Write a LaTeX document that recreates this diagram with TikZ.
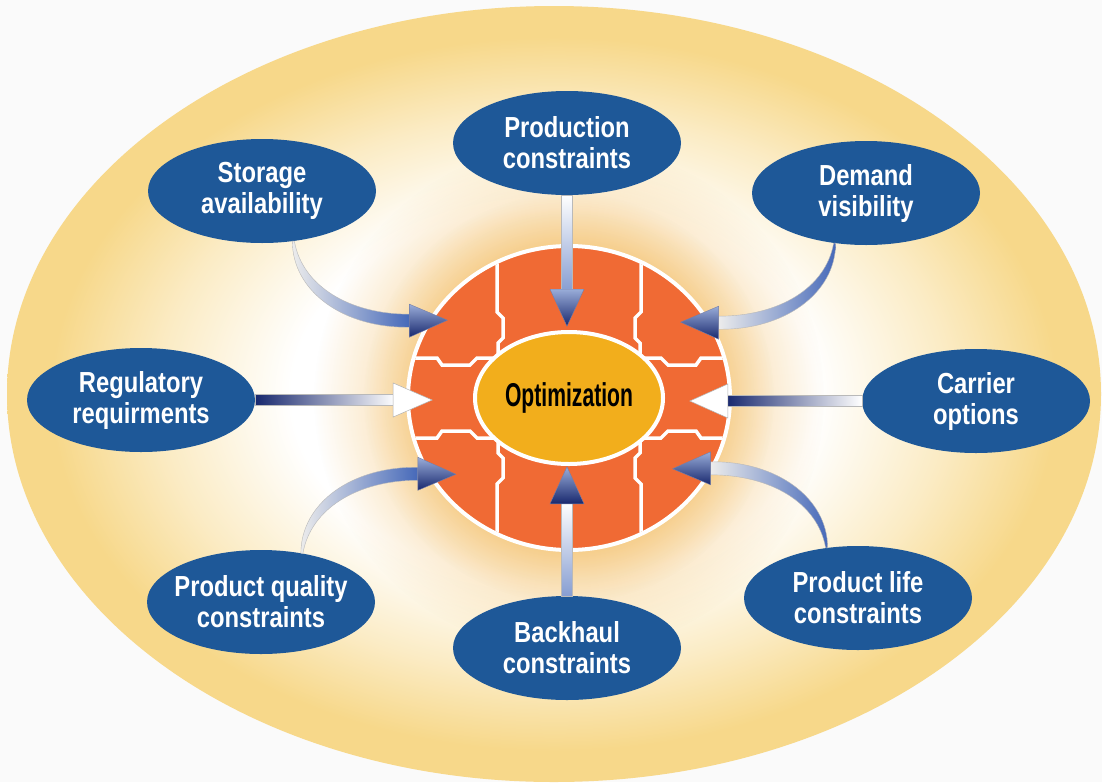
\documentclass[tikz,border=0pt]{standalone}
\usepackage{fontspec}
\setmainfont{Liberation Sans}
\newfontfamily\labelfont{Liberation Sans}[FakeStretch=0.82]
\newfontfamily\optfont{Liberation Sans}[FakeStretch=0.64]
\usetikzlibrary{shapes.geometric,calc,fadings}

\definecolor{nodeblue}{RGB}{30,88,152}
\definecolor{diskorange}{RGB}{240,106,52}
\definecolor{optgold}{RGB}{242,174,28}
\definecolor{bggold}{RGB}{247,216,138}
\definecolor{glowgold}{RGB}{240,168,48}
\definecolor{navy}{RGB}{24,40,110}
\definecolor{arrowblue}{RGB}{70,105,185}
\definecolor{paper}{RGB}{250,250,250}
\colorlet{bgmid}{bggold!50!white}

\pgfdeclareradialshading{bgshade}{\pgfpointorigin}{color(0bp)=(white); color(12bp)=(white); color(18bp)=(bgmid); color(23bp)=(bggold); color(50bp)=(bggold)}
\tikzfading[name=glowfade, inner color=transparent!0, outer color=transparent!100]

\begin{document}
\begin{tikzpicture}[
    x=1pt, y=-1pt,
    factor/.style={ellipse, fill=nodeblue, text=white, minimum width=228pt, minimum height=104pt, inner xsep=-25pt, inner ysep=-8pt, align=center, font=\labelfont\bfseries\fontsize{29}{31}\selectfont},
    disk/.style={ellipse, fill=diskorange, draw=white, line width=4pt, minimum width=322pt, minimum height=304pt, inner sep=0pt},
    core/.style={ellipse, fill=optgold, draw=white, line width=4pt, minimum width=188pt, minimum height=132pt, inner sep=0pt, font=\optfont\bfseries\fontsize{33}{36}\selectfont},
    divider/.style={white, line width=3.5pt},
    shaft/.style={draw=gray!55, line width=0.4pt},
    head/.style={draw=navy!60, line width=0.4pt, top color=arrowblue!55!white, bottom color=navy}
]
    \useasboundingbox (0,0) rectangle (1102,782);

    % Background
    \fill[paper] (0,0) rectangle (1102,782);
    \shade[shading=bgshade] (554,394) ellipse [x radius=547, y radius=388];
    \fill[glowgold, path fading=glowfade] (569,398) circle (255);
    \fill[glowgold, path fading=glowfade] (569,398) circle (205);

    % Central disk
    \node[disk] (disk) at (569,398) {};
    \begin{scope}
        \clip (disk.center) ellipse [x radius=159, y radius=150];
        \foreach \sx/\sy in {1/1,-1/1,1/-1,-1/-1}{
            \begin{scope}[shift={(disk.center)}, xscale=\sx, yscale=\sy]
                \draw[divider] (-72,-160) -- (-72,-86) -- (-66,-80) -- (-66,-60) -- (-71,-55) -- (-71,-30);
                \draw[divider] (-170,-40) -- (-132,-40) -- (-127,-33) -- (-99,-33) -- (-92,-40) -- (-70,-40);
            \end{scope}
        }
    \end{scope}
    \node[core] (opt) at (disk.center) {Optimization};

    % Factors
    \node[factor] (prod) at (567,143) {Production\\constraints};
    \node[factor] (storage) at (262,191) {Storage\\availability};
    \node[factor] (demand) at (866,193) {Demand\\visibility};
    \node[factor] (reg) at (141,400) {Regulatory\\requirments};
    \node[factor] (carrier) at (976,401) {Carrier\\options};
    \node[factor] (qual) at (261,602) {Product quality\\constraints};
    \node[factor] (back) at (567,648) {Backhaul\\constraints};
    \node[factor] (life) at (858,598) {Product life\\constraints};

    % Straight arrows
    \begin{scope}[shift={(prod.south)}]
        \shade[shaft, top color=white, bottom color=arrowblue!65!white] (-5.5,0) rectangle (5.5,96);
        \shade[head] (-17,94) -- (0,131) -- (17,94) -- cycle;
    \end{scope}
    \begin{scope}[shift={(back.north)}, yscale=-1]
        \shade[shaft, top color=white, bottom color=arrowblue!65!white] (-5.5,0) rectangle (5.5,94);
        \shade[head] (-17,92) -- (0,129) -- (17,92) -- cycle;
    \end{scope}
    \begin{scope}[shift={(reg.east)}]
        \shade[shaft, left color=navy, middle color=arrowblue!45!white, right color=white] (0,-5.5) rectangle (140,5.5);
        \filldraw[fill=white, draw=gray!60, line width=0.5pt] (138,-17) -- (177,0) -- (138,17) -- cycle;
    \end{scope}
    \begin{scope}[shift={(carrier.west)}, xscale=-1]
        \shade[shaft, left color=navy, middle color=arrowblue!45!white, right color=white] (0,-5.5) rectangle (136,5.5);
        \filldraw[fill=white, draw=gray!60, line width=0.5pt] (134,-17) -- (172,0) -- (134,17) -- cycle;
    \end{scope}

    % Curved arrows
    \foreach \anc/\sx/\sy in {storage.-58/1/1, demand.-122/-1/1, qual.50/1/-1, life.122/-1/-1}{
        \begin{scope}[shift={(\anc)}, xscale=\sx, yscale=\sy]
            \shade[shaft, left color=gray!15, right color=arrowblue] (1,0) .. controls (9,45) and (56,73) .. (116,73) -- (116,86) .. controls (50,87) and (-1,50) .. (-1,0) -- cycle;
            \shade[head] (116,63) -- (154,79) -- (116,96) -- cycle;
        \end{scope}
    }
\end{tikzpicture}
\end{document}
